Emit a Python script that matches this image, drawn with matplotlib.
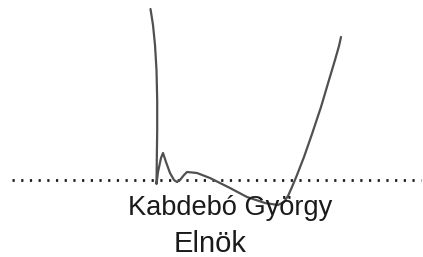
import matplotlib
matplotlib.use("Agg")
import matplotlib.pyplot as plt

# Signature stroke (pixel coordinates, y downward)
sig_x = [150.5, 153, 155, 156.5, 157.2, 157.2, 156.8, 156.5, 158, 161, 163, 166, 170, 174, 177, 180, 184, 187,
         197, 210, 230, 247, 265, 278, 284, 288, 292, 297, 304, 312, 321, 329, 335, 339, 341]
sig_y = [9, 25, 45, 70, 100, 130, 160, 184, 172, 158, 153, 162, 173, 180, 182, 180, 175, 172,
         173, 178, 188, 197, 203, 205, 202, 196, 187, 175, 157, 134, 107, 80, 60, 46, 37]

name_text = "Kabdebó György"
title_text = "Elnök"

fig = plt.figure(figsize=(4.23, 2.57), dpi=100)
ax = fig.add_axes([0, 0, 1, 1])
ax.set_xlim(0, 423)
ax.set_ylim(257, 0)
ax.axis("off")

# dotted signature line
ax.plot([12, 421], [180, 180], color="#1e1e1e", lw=2.0, linestyle=(0, (0.8, 2.33)),
        solid_capstyle="butt", dash_capstyle="butt")

fam = ["Liberation Sans", "DejaVu Sans"]
ax.text(230.5, 215, name_text, ha="center", va="baseline", fontsize=19.6, family=fam, color="#1a1a1a")
ax.text(210, 252, title_text, ha="center", va="baseline", fontsize=21, family=fam, color="#1a1a1a")

ax.plot(sig_x, sig_y, color="#505050", lw=1.6, solid_joinstyle="round", solid_capstyle="round")

fig.savefig("out.png", dpi=100)
